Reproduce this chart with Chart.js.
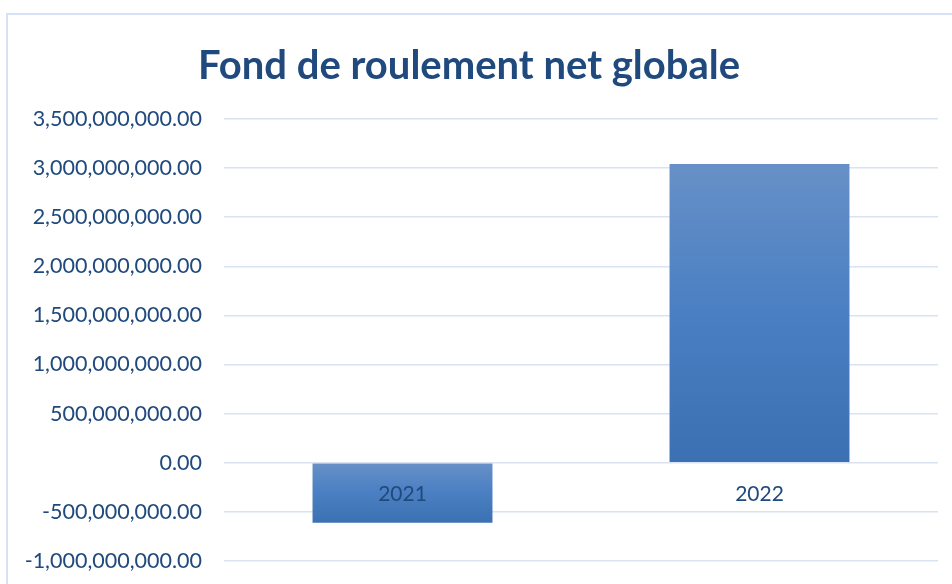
<!DOCTYPE html>
<html lang="fr">
<head>
    <meta charset="UTF-8">
    <title>Fond de roulement net globale</title>
    <script src="https://cdn.jsdelivr.net/npm/chart.js"></script>
    <style>
        body {
            margin: 0;
            background-color: #fff;
        }
    </style>
</head>
<body>
    <canvas id="frngChart" width="952" height="584"></canvas>

    <script>
        // data
        var years = ['2021', '2022'];
        var frngValues = [-611000000, 3043000000];
        var yMin = -1000000000;
        var yMax = 3500000000;
        var yStep = 500000000;

        var textColor = '#204A7D';
        var gridColor = '#D9E3F2';

        // light outer frame like the spreadsheet chart area
        var framePlugin = {
            id: 'frame',
            beforeDraw: function (chart) {
                var c = chart.ctx;
                c.save();
                c.strokeStyle = '#D6E2F4';
                c.lineWidth = 2;
                c.strokeRect(7, 14, 1200, 1200);
                c.restore();
            }
        };

        // gradient on each bar, light at top, dark at bottom
        function barFill(ctx) {
            var chart = ctx.chart;
            if (!chart.chartArea || ctx.type !== 'data') {
                return '#4A7FC1';
            }
            var y = chart.scales.y;
            var v = ctx.raw;
            var top = y.getPixelForValue(Math.max(v, 0));
            var bottom = y.getPixelForValue(Math.min(v, 0));
            var g = chart.ctx.createLinearGradient(0, top, 0, bottom);
            g.addColorStop(0, '#6790C7');
            g.addColorStop(0.5, '#4A7FC3');
            g.addColorStop(1, '#3B70B2');
            return g;
        }

        var ctx = document.getElementById('frngChart').getContext('2d');
        var chart = new Chart(ctx, {
            type: 'bar',
            data: {
                labels: years,
                datasets: [{
                    label: 'Fond de roulement net globale',
                    data: frngValues,
                    backgroundColor: barFill,
                    borderWidth: 0,
                    categoryPercentage: 1,
                    barPercentage: 0.504
                }]
            },
            plugins: [framePlugin],
            options: {
                responsive: false,
                animation: false,
                layout: {
                    padding: { left: 0, right: 14, top: 0, bottom: 23 }
                },
                plugins: {
                    legend: { display: false },
                    tooltip: { enabled: false },
                    title: {
                        display: true,
                        text: 'Fond de roulement net globale',
                        color: textColor,
                        font: { family: 'Lato', size: 40, weight: 'bold', lineHeight: 1.2 },
                        padding: { top: 42, bottom: 29 }
                    }
                },
                scales: {
                    x: {
                        position: { y: 0 },
                        grid: { display: false, drawTicks: false },
                        border: { display: false },
                        ticks: {
                            z: 1,
                            color: textColor,
                            font: { family: 'Lato', size: 21 },
                            padding: 19
                        }
                    },
                    y: {
                        min: yMin,
                        max: yMax,
                        afterFit: function (scale) {
                            scale.width = 224;
                            // the tick padding would otherwise eat the bottom margin
                            scale.paddingTop = 0;
                            scale.paddingBottom = 0;
                        },
                        grid: {
                            color: gridColor,
                            lineWidth: 1.5,
                            drawTicks: false
                        },
                        border: { display: false },
                        ticks: {
                            stepSize: yStep,
                            color: textColor,
                            font: { family: 'Lato', size: 21.5 },
                            padding: 22,
                            callback: function (value) {
                                return value.toLocaleString('en-US', {
                                    minimumFractionDigits: 2,
                                    maximumFractionDigits: 2
                                });
                            }
                        }
                    }
                }
            }
        });
    </script>
</body>
</html>
